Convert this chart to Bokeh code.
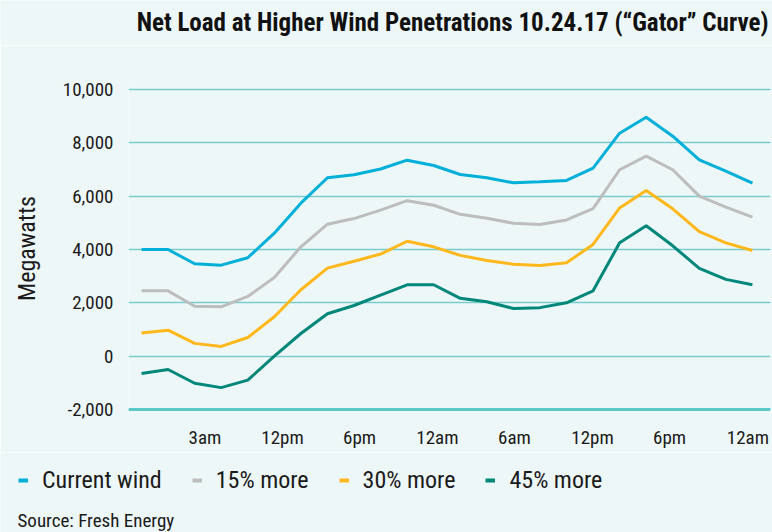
from bokeh.plotting import figure
from bokeh.layouts import column
from bokeh.models import (Range1d, FixedTicker, Legend, LegendItem, Span, Label,
                          ColumnDataSource)
from bokeh.embed import file_html
from bokeh.resources import INLINE

# ---- data (24 points) ----
idx = list(range(24))
current_wind = [4000, 4000, 3465, 3412, 3690, 4612, 5737, 6690, 6800, 7020, 7350, 7151,
                6814, 6690, 6500, 6540, 6589, 7050, 8362, 8962, 8250, 7365, 6937, 6487]
more_15 = [2450, 2450, 1870, 1852, 2240, 2950, 4100, 4950, 5160, 5475, 5830, 5660,
           5320, 5170, 4985, 4939, 5110, 5530, 6990, 7500, 6990, 6000, 5587, 5212]
more_30 = [870, 975, 480, 365, 700, 1480, 2490, 3300, 3560, 3830, 4310, 4100,
           3780, 3590, 3448, 3400, 3500, 4190, 5560, 6214, 5526, 4670, 4250, 3964]
more_45 = [-650, -500, -1015, -1180, -900, 0, 850, 1590, 1900, 2290, 2677, 2677,
           2170, 2040, 1790, 1820, 2000, 2450, 4250, 4890, 4140, 3290, 2880, 2677]

series_names = ["Current wind", "15% more", "30% more", "45% more"]
series_values = [current_wind, more_15, more_30, more_45]
series_colors = ["#00b0d8", "#bdbdbd", "#ffb81c", "#00877a"]

x_tick_pos = [2.39, 5.31, 8.21, 11.14, 14.04, 16.98, 19.88, 22.83]
x_tick_labels = ["3am", "12pm", "6pm", "12am", "6am", "12pm", "6pm", "12am"]
y_ticks = [-2000, 0, 2000, 4000, 6000, 8000, 10000]

TITLE = "Net Load at Higher Wind Penetrations 10.24.17 (\u201cGator\u201d Curve)"
SOURCE = "Source: Fresh Energy"

BG = "#eef7f8"
FONT = "Roboto Condensed"
TXT = "#1a1a1a"


def blank(height):
    f = figure(width=772, height=height, output_backend="svg", toolbar_location=None,
               x_range=Range1d(0, 772), y_range=Range1d(0, height),
               x_axis_type=None, y_axis_type=None,
               min_border_left=0, min_border_right=0, min_border_top=0,
               min_border_bottom=0)
    f.background_fill_color = BG
    f.border_fill_color = BG
    f.outline_line_color = None
    f.grid.visible = False
    f.frame_align = False
    return f


# ---- header ----
h = blank(45)
h.add_layout(Label(x=768, y=23, text=TITLE, text_font=FONT, text_font_size="25px",
                   text_font_style="bold", text_align="right", text_baseline="middle",
                   text_color="#111111"))

# ---- main chart ----
p = figure(width=772, height=407, output_backend="svg", toolbar_location=None,
           x_range=Range1d(-0.49, 23.68), y_range=Range1d(-2112.5, 10187.5),
           min_border_left=128, min_border_right=2, min_border_top=39,
           min_border_bottom=40)
p.frame_align = False
p.background_fill_color = BG
p.border_fill_color = BG
p.outline_line_color = None

p.xgrid.grid_line_color = None
p.ygrid.grid_line_color = "#78cccc"
p.ygrid.grid_line_width = 1.3
p.ygrid.ticker = FixedTicker(ticks=y_ticks)

p.yaxis.ticker = FixedTicker(ticks=y_ticks)
p.yaxis.major_label_overrides = {v: f"{v:,}" for v in y_ticks}
p.xaxis.ticker = FixedTicker(ticks=x_tick_pos)
p.xaxis.major_label_overrides = {v: t for v, t in zip(x_tick_pos, x_tick_labels)}

for ax in (p.xaxis, p.yaxis):
    ax.axis_line_color = None
    ax.major_tick_line_color = None
    ax.minor_tick_line_color = None
    ax.major_label_text_font = FONT
    ax.major_label_text_font_size = "19px"
    ax.major_label_text_color = TXT

p.yaxis.major_label_standoff = 9
p.xaxis.major_label_standoff = 7
p.yaxis.axis_label = "Megawatts"
p.yaxis.axis_label_text_font = FONT
p.yaxis.axis_label_text_font_size = "24px"
p.yaxis.axis_label_text_font_style = "normal"
p.yaxis.axis_label_text_color = TXT
p.yaxis.axis_label_standoff = 19

p.add_layout(Span(location=-2000, dimension="width", line_color="#5bc8c8", line_width=3))

for name, vals, col in zip(series_names, series_values, series_colors):
    src = ColumnDataSource(dict(x=idx, y=vals))
    p.line("x", "y", source=src, line_color=col, line_width=3)

# ---- footer: legend + source ----
f = blank(80)
nan = float("nan")
items = []
for name, col in zip(series_names, series_colors):
    r = f.line(x=[nan], y=[nan], line_color=col, line_width=4)
    items.append(LegendItem(label=name, renderers=[r]))

legend = Legend(items=items, orientation="horizontal", location=(18, 38),
                glyph_width=10, glyph_height=24, label_height=24,
                label_standoff=14, spacing=30,
                padding=0, margin=0, border_line_color=None,
                background_fill_alpha=0,
                label_text_font=FONT, label_text_font_size="24px",
                label_text_color=TXT)
f.add_layout(legend, "center")

f.add_layout(Label(x=17, y=12, text=SOURCE, text_font=FONT, text_font_size="19px",
                   text_align="left", text_baseline="middle", text_color=TXT))

layout = column(h, p, f, spacing=0)
html = file_html(layout, INLINE)
html = html.replace("<body>", '<body style="background:%s">' % BG, 1)
open("out.html", "w").write(html)
